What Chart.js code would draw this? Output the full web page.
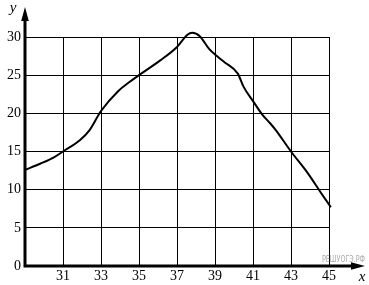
<!DOCTYPE html>
<html>
<head>
<meta charset="utf-8">
<script src="https://cdn.jsdelivr.net/npm/chart.js@4/dist/chart.umd.min.js"></script>
<style>
    html, body { margin: 0; padding: 0; background: #fff; }
    #wrap { width: 369px; height: 285px; }
</style>
</head>
<body>
<div id="wrap"><canvas id="graph"></canvas></div>
<script>
// values
const curveX = [29, 29.8, 30.5, 31, 31.9, 32.4, 33, 33.9, 34.5, 35, 36.1, 37, 37.55, 37.8, 38.2, 38.7, 39.1, 39.5, 40.2, 40.5, 41, 41.5, 41.9, 42.2, 43, 43.9, 44.6, 45.1];
const curveY = [12.6, 13.4, 14.2, 15.0, 16.5, 17.8, 20.3, 22.9, 24.1, 25.0, 26.9, 28.7, 30.3, 30.55, 30.1, 28.4, 27.5, 26.7, 25.2, 23.5, 21.6, 19.8, 18.7, 17.8, 15.0, 12.1, 9.5, 7.7];
const xTicks = [29, 31, 33, 35, 37, 39, 41, 43, 45];
const yTicks = [0, 5, 10, 15, 20, 25, 30];

const serif = '"Liberation Serif", "DejaVu Serif", serif';

const axesArrows = {
    id: 'axesArrows',
    afterDraw(chart) {
        const ctx = chart.ctx;
        const xs = chart.scales.x, ys = chart.scales.y;
        const x0 = xs.getPixelForValue(29);
        const y0 = ys.getPixelForValue(0);
        ctx.save();
        ctx.strokeStyle = '#000';
        ctx.fillStyle = '#000';
        ctx.lineWidth = 3;
        ctx.beginPath();
        ctx.moveTo(x0, y0 + 1.5);
        ctx.lineTo(x0, 18);
        ctx.moveTo(x0 - 1.5, y0);
        ctx.lineTo(354, y0);
        ctx.stroke();
        // arrow heads
        ctx.beginPath();
        ctx.moveTo(x0, 7);
        ctx.lineTo(x0 - 3.8, 21);
        ctx.lineTo(x0 + 3.8, 21);
        ctx.closePath();
        ctx.fill();
        ctx.beginPath();
        ctx.moveTo(365, y0);
        ctx.lineTo(351, y0 - 3.8);
        ctx.lineTo(351, y0 + 3.8);
        ctx.closePath();
        ctx.fill();
        // axis names
        ctx.font = 'italic 15px ' + serif;
        ctx.textAlign = 'center';
        ctx.textBaseline = 'alphabetic';
        ctx.fillText('y', 13, 12);
        ctx.fillText('x', 362, 281);
        // watermark
        ctx.fillStyle = '#a8a8a8';
        ctx.font = '8px "DejaVu Sans Condensed", "DejaVu Sans", sans-serif';
        ctx.textAlign = 'left';
        ctx.fillText('РЕШУОГЭ.РФ', 322, 262, 43);
        ctx.restore();
    }
};

new Chart(document.getElementById('graph'), {
    type: 'line',
    data: {
        datasets: [{
            data: curveX.map((x, i) => ({ x: x, y: curveY[i] })),
            borderColor: '#000',
            borderWidth: 2,
            pointRadius: 0,
            fill: false,
            cubicInterpolationMode: 'monotone'
        }]
    },
    options: {
        responsive: true,
        maintainAspectRatio: false,
        animation: false,
        clip: false,
        layout: { padding: { top: 37, right: 40, left: 0, bottom: 0 } },
        plugins: { legend: { display: false }, tooltip: { enabled: false } },
        scales: {
            x: {
                type: 'linear',
                min: 29,
                max: 45,
                afterBuildTicks: s => { s.ticks = xTicks.map(v => ({ value: v })); },
                afterFit: s => { s.height = 19; },
                ticks: {
                    color: '#000',
                    font: { family: serif, size: 14 },
                    padding: 2,
                    maxRotation: 0,
                    autoSkip: false,
                    callback: v => (v === 29 ? '' : String(v))
                },
                grid: { color: '#000', lineWidth: 1, drawTicks: false },
                border: { display: false }
            },
            y: {
                min: 0,
                max: 30,
                afterBuildTicks: s => { s.ticks = yTicks.map(v => ({ value: v })); },
                afterFit: s => { s.width = 25; },
                ticks: {
                    color: '#000',
                    font: { family: serif, size: 14 },
                    padding: 4,
                    autoSkip: false
                },
                grid: { color: '#000', lineWidth: 1, drawTicks: false },
                border: { display: false }
            }
        }
    },
    plugins: [axesArrows]
});
</script>
</body>
</html>
